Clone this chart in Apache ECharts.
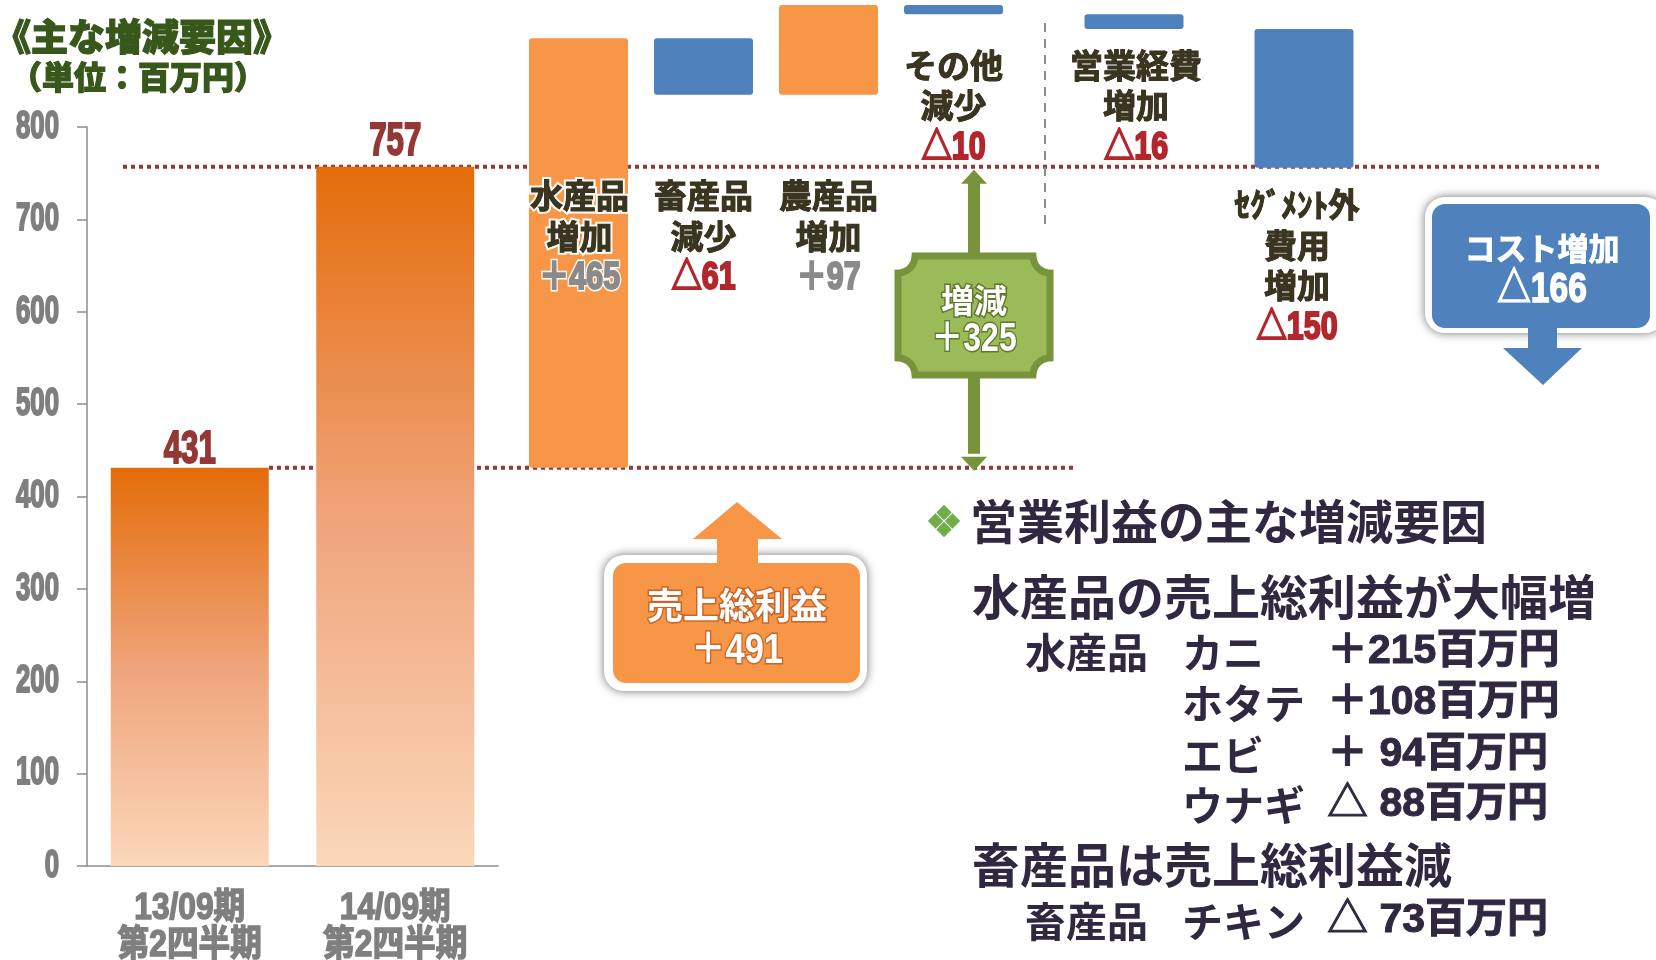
<!DOCTYPE html>
<html><head><meta charset="utf-8">
<script src="https://cdn.jsdelivr.net/npm/echarts@6/dist/echarts.min.js"></script>
<style>html,body{margin:0;padding:0;background:#fff}#c{width:1656px;height:960px}</style>
</head><body><div id="c"></div>
<script>
// ---------------- data ----------------
const titleText = '《主な増減要因》';
const unitText = '（単位：百万円）';
const periodLabels = ['13/09期\n第2四半期', '14/09期\n第2四半期'];
const periodValues = [431, 757];
const productFactors = ['水産品\n増加', '畜産品\n減少', '農産品\n増加', 'その他\n減少'];
const productDeltas = [465, -61, 97, -10];
const costFactors = ['営業経費\n増加', 'ｾｸﾞﾒﾝﾄ外\n費用\n増加'];
const costDeltas = [-16, -150];
const yMin = 0, yMax = 800, yStep = 100;
const yTickLabels = ['0', '100', '200', '300', '400', '500', '600', '700', '800'];
const grossProfitLabel = '売上総利益';
const grossProfitChange = 491;
const netLabel = '増減';
const netChange = 325;
const costLabel = 'コスト増加';
const costChange = -166;
const noteTitle = '営業利益の主な増減要因';
const noteHead1 = '水産品の売上総利益が大幅増';
const noteRows1 = [
  ['水産品', 'カニ', '＋215百万円'],
  ['', 'ホタテ', '＋108百万円'],
  ['', 'エビ', '＋ 94百万円'],
  ['', 'ウナギ', '△ 88百万円']
];
const noteHead2 = '畜産品は売上総利益減';
const noteRows2 = [
  ['畜産品', 'チキン', '△ 73百万円']
];

// ---------------- helpers ----------------
const UP = '#F79646', DOWN = '#4F81BD';
const NUM = '"Liberation Sans","Noto Sans CJK JP",sans-serif';
const CJK = '"Noto Sans CJK JP","Noto Sans",sans-serif';
const fmt = d => (d >= 0 ? '＋' : '△') + Math.abs(d);

function waterfall(start, deltas) {
  let run = start; const base = [], size = [];
  deltas.forEach(d => {
    if (d >= 0) { base.push(run); run += d; } else { run += d; base.push(run); }
    size.push(Math.abs(d));
  });
  return { base, size, end: run };
}
const wfP = waterfall(periodValues[0], productDeltas);
const wfC = waterfall(wfP.end, costDeltas);

const chart = echarts.init(document.getElementById('c'));
const G = { top: 127, bottom: 94 };
const axisGray = '#8c8c8c';
const yBase = { type: 'value', min: yMin, max: yMax, interval: yStep, splitLine: { show: false } };

const option = {
  animation: false,
  backgroundColor: '#fff',
  grid: [
    { left: 87, width: 411, top: G.top, bottom: G.bottom },
    { left: 516, width: 500, top: G.top, bottom: G.bottom },
    { left: 1049, width: 340, top: G.top, bottom: G.bottom }
  ],
  xAxis: [
    { type: 'category', gridIndex: 0, data: periodLabels,
      axisLine: { lineStyle: { color: axisGray, width: 1.5 } },
      axisTick: { length: 11, lineStyle: { color: axisGray, width: 1.5 } },
      axisLabel: { show: false } },
    { type: 'category', gridIndex: 1, data: productFactors, show: false },
    { type: 'category', gridIndex: 2, data: costFactors, show: false }
  ],
  yAxis: [
    Object.assign({}, yBase, { gridIndex: 0,
      axisLine: { show: true, lineStyle: { color: axisGray, width: 1.5 } },
      axisTick: { show: true, length: 10, lineStyle: { color: axisGray, width: 1.5 } },
      axisLabel: { show: false } }),
    Object.assign({}, yBase, { gridIndex: 1, show: false }),
    Object.assign({}, yBase, { gridIndex: 2, show: false })
  ],
  series: [
    { type: 'bar', xAxisIndex: 0, yAxisIndex: 0, data: periodValues, barWidth: 158, z: 3,
      itemStyle: { color: new echarts.graphic.LinearGradient(0, 0, 0, 1, [
        { offset: 0, color: '#E46C0A' }, { offset: 0.5, color: '#EFA47A' }, { offset: 1, color: '#FBD7BA' }]) } },
    { type: 'bar', xAxisIndex: 1, yAxisIndex: 1, stack: 'p', data: wfP.base, barWidth: 99, clip: false, silent: true,
      itemStyle: { color: 'rgba(0,0,0,0)' } },
    { type: 'bar', xAxisIndex: 1, yAxisIndex: 1, stack: 'p', barWidth: 99, clip: false, z: 3,
      data: wfP.size.map((v, i) => ({ value: v, itemStyle: { color: productDeltas[i] >= 0 ? UP : DOWN } })),
      itemStyle: { borderRadius: 3 } },
    { type: 'bar', xAxisIndex: 2, yAxisIndex: 2, stack: 'c', data: wfC.base, barWidth: 99, clip: false, silent: true,
      itemStyle: { color: 'rgba(0,0,0,0)' } },
    { type: 'bar', xAxisIndex: 2, yAxisIndex: 2, stack: 'c', barWidth: 99, clip: false, z: 3,
      data: wfC.size.map((v, i) => ({ value: v, itemStyle: { color: costDeltas[i] >= 0 ? UP : DOWN } })),
      itemStyle: { borderRadius: 3 } }
  ]
};
chart.setOption(option);

// ---------------- decorations positioned through the chart's scales ----------------
const P = (g, cat, val) => chart.convertToPixel({ gridIndex: g }, [cat, val]);
const yEnd = P(0, 0, periodValues[1])[1];
const yStart = P(0, 0, periodValues[0])[1];

function txt(text, x, y, o) {
  const st = { text, x: 0, y: 0, textAlign: o.align || 'center', align: o.align || 'center',
    textVerticalAlign: 'middle', verticalAlign: 'middle', fill: o.color,
    fontSize: o.size, fontFamily: o.family || CJK, fontWeight: o.weight || 'bold' };
  if (o.stroke) { st.stroke = o.stroke; st.lineWidth = o.lw || 3; st.strokeFirst = true; }
  return { type: 'text', z: o.z || 60, x, y, scaleX: o.sx || 1, scaleY: o.sy || 1, style: st };
}
function plaque(x0, y0, x1, y1, r) {
  const pts = [];
  const arc = (cx, cy, a0, a1) => { for (let k = 0; k <= 8; k++) { const a = (a0 + (a1 - a0) * k / 8) * Math.PI / 180; pts.push([cx + r * Math.cos(a), cy + r * Math.sin(a)]); } };
  arc(x1, y0, 180, 90); arc(x1, y1, 270, 180); arc(x0, y1, 360, 270); arc(x0, y0, 90, 0);
  return pts;
}

const g = [];
// axis labels (condensed, through axis scale)
yTickLabels.forEach(t => {
  const y = P(0, 0, +t)[1];
  g.push(txt(t, 59, y, { align: 'right', color: '#7f7f7f', size: 39, family: NUM, sx: 0.66, stroke: '#7f7f7f', lw: 2 }));
});
periodLabels.forEach((lab, i) => {
  const x = P(0, i, 0)[0];
  lab.split('\n').forEach((l, k) => g.push(txt(l, x, 909 + k * 37, { color: '#7f7f7f', size: 36, family: NUM, sx: 0.88, stroke: '#7f7f7f', lw: 1.5 })));
});
// bar value labels
const valOffset = [18, 24];
periodValues.forEach((v, i) => {
  const p = P(0, i, v);
  g.push(txt(String(v), p[0], p[1] - valOffset[i], { color: '#953735', size: 46, family: NUM, sx: 0.68, stroke: '#953735', lw: 2 }));
});

// dotted reference lines
g.push({ type: 'line', z: 1, shape: { x1: 123, y1: yEnd, x2: 1600, y2: yEnd }, style: { stroke: '#953735', lineWidth: 4, lineDash: [4, 4] } });
g.push({ type: 'line', z: 1, shape: { x1: 269, y1: yStart, x2: 1075, y2: yStart }, style: { stroke: '#953735', lineWidth: 4, lineDash: [4, 4] } });
// separator
g.push({ type: 'line', z: 1, shape: { x1: 1045, y1: 23, x2: 1045, y2: 224 }, style: { stroke: '#8c8c8c', lineWidth: 2, lineDash: [9, 7] } });

// waterfall labels (white halo layer + heavy text layer)
const step = 40.5;
function halo(text, x, y, o) {
  g.push(txt(text, x, y, Object.assign({}, o, { stroke: 'rgba(255,255,255,0.95)', lw: 5, z: 58 })));
  g.push(txt(text, x, y, Object.assign({}, o, { stroke: o.color, lw: o.heavy || 1, z: 60 })));
}
function factorLabels(grid, names, deltas, offs, dx) {
  names.forEach((nm, i) => {
    const x = P(grid, i, 0)[0] + (dx[i] || 0);
    const lines = nm.split('\n');
    let y = yEnd + offs[i];
    lines.forEach(l => { halo(l, x, y, { color: '#3a3520', size: 33, heavy: 1, sx: l.indexOf('ｾ') >= 0 ? 0.95 : 1 }); y += step; });
    const c = deltas[i] >= 0 ? '#8a8a8a' : '#B3262C';
    halo(fmt(deltas[i]), x, y + 2, { color: c, size: 38, family: NUM, sx: 0.8, heavy: 2 });
  });
}
factorLabels(1, productFactors, productDeltas, [29, 29, 29, -101.5], [1, 0, 0, 0]);
factorLabels(2, costFactors, costDeltas, [-101.5, 38], [2, -7]);

// titles
g.push(txt(titleText, -6, 37, { align: 'left', color: '#38571A', size: 37, weight: 900, stroke: '#38571A', lw: 1.2 }));
g.push(txt(unitText, 10, 77, { align: 'left', color: '#38571A', size: 32, weight: 900, stroke: '#38571A', lw: 1.2 }));

// green double arrow and plaque
const ax = 974, green = '#77933C';
g.push({ type: 'rect', z: 20, shape: { x: ax - 6, y: yEnd + 14, width: 12, height: yStart - yEnd - 28 }, style: { fill: green } });
g.push({ type: 'polygon', z: 20, shape: { points: [[ax, yEnd + 3], [ax + 13, yEnd + 17], [ax - 13, yEnd + 17]] }, style: { fill: green } });
g.push({ type: 'polygon', z: 20, shape: { points: [[ax, yStart + 3], [ax + 13, yStart - 11], [ax - 13, yStart - 11]] }, style: { fill: green } });
g.push({ type: 'polygon', z: 21, shape: { points: plaque(898, 256, 1050, 375, 17) }, style: { fill: '#9BBB59', stroke: green, lineWidth: 7 } });
g.push(txt(netLabel, ax, 300, { color: '#fff', size: 33, stroke: '#5f7a2c', lw: 3, z: 22 }));
g.push(txt(fmt(netChange), ax, 340, { color: '#fff', size: 40, family: NUM, sx: 0.8, stroke: '#5f7a2c', lw: 3, z: 22 }));

// orange callout (gross profit)
g.push({ type: 'rect', z: 20, shape: { x: 604, y: 555, width: 263, height: 136, r: 20 }, style: { fill: '#fff', shadowBlur: 10, shadowColor: 'rgba(0,0,0,0.55)' } });
g.push({ type: 'rect', z: 21, shape: { x: 613, y: 563, width: 247, height: 120, r: 13 }, style: { fill: UP } });
g.push({ type: 'polygon', z: 22, shape: { points: [[737, 502], [782, 539], [758, 539], [758, 564], [717, 564], [717, 539], [693, 539]] }, style: { fill: UP } });
g.push(txt(grossProfitLabel, 737, 605, { color: '#fff', size: 36, stroke: '#c8652a', lw: 3, z: 23 }));
g.push(txt(fmt(grossProfitChange), 737, 651, { color: '#fff', size: 42, family: NUM, sx: 0.82, stroke: '#c8652a', lw: 3, z: 23 }));

// blue callout (cost)
g.push({ type: 'rect', z: 20, shape: { x: 1425, y: 197, width: 240, height: 136, r: 20 }, style: { fill: '#fff', shadowBlur: 10, shadowColor: 'rgba(0,0,0,0.55)' } });
g.push({ type: 'rect', z: 21, shape: { x: 1432, y: 204, width: 218, height: 124, r: 13 }, style: { fill: DOWN } });
g.push({ type: 'polygon', z: 22, shape: { points: [[1528, 326], [1557, 326], [1557, 348], [1582, 348], [1543, 385], [1503, 348], [1528, 348]] }, style: { fill: DOWN } });
g.push(txt(costLabel, 1542, 248, { color: '#fff', size: 31, stroke: '#fff', lw: 0.8, z: 23 }));
g.push(txt(fmt(costChange), 1542, 290, { color: '#fff', size: 42, family: NUM, sx: 0.8, stroke: '#fff', lw: 1.5, z: 23 }));

// notes block
const noteColor = '#2f2840';
const bc = [944, 521], bs = 8.5;
[[0, -1], [-1, 0], [1, 0], [0, 1]].forEach(([dx, dy]) => {
  const cx = bc[0] + dx * bs, cy = bc[1] + dy * bs, h = bs - 0.8;
  g.push({ type: 'polygon', z: 30, shape: { points: [[cx, cy - h], [cx + h, cy], [cx, cy + h], [cx - h, cy]] }, style: { fill: '#70AD47' } });
});
g.push(txt(noteTitle, 970, 521, { align: 'left', color: noteColor, size: 47 }));
g.push(txt(noteHead1, 972, 597, { align: 'left', color: noteColor, size: 48 }));
const cols = [1025, 1182, 1327];
const rowY1 = [652, 703, 755, 805];
const cell = (c, j, y) => g.push(txt(c, cols[j], y, { align: 'left', color: noteColor, size: 41, family: j === 2 ? NUM : CJK, stroke: j === 2 ? noteColor : null, lw: 1 }));
noteRows1.forEach((r, i) => r.forEach((c, j) => { if (c) cell(c, j, rowY1[i]); }));
g.push(txt(noteHead2, 972, 865, { align: 'left', color: noteColor, size: 48 }));
noteRows2.forEach(r => r.forEach((c, j) => { if (c) cell(c, j, 921); }));

chart.setOption({ graphic: { elements: g } });
</script>
</body></html>
